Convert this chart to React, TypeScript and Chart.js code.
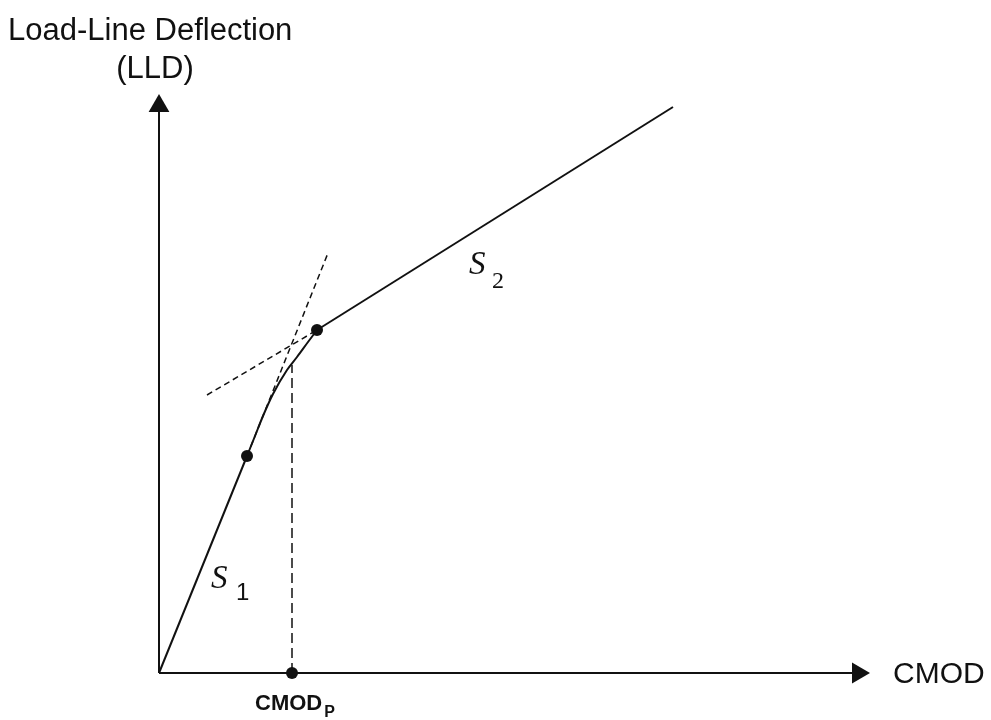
import React, { useEffect, useRef } from "react";
import { Chart, registerables } from "chart.js";

Chart.register(...registerables);

// Axis ranges (arbitrary units: CMOD on x, LLD on y)
const X_RANGE = [-1.59, 8.32];
const Y_RANGE = [-0.47, 6.73];

// Axes (arrow heads at the far ends)
const xAxisCMOD = [0, 6.99];
const yAxisLLD = [0, 5.67];

// Linear part S1
const s1CMOD = [0, 0.88];
const s1LLD = [0, 2.17];

// Knee of the curve
const kneeCMOD = [0.88, 0.96, 1.04, 1.14, 1.28, 1.38, 1.49, 1.58];
const kneeLLD = [2.17, 2.37, 2.57, 2.79, 3.03, 3.16, 3.31, 3.43];

// Linear part S2
const s2CMOD = [1.58, 5.14];
const s2LLD = [3.43, 5.66];

// Tangent construction lines
const tan1CMOD = [0.88, 1.69];
const tan1LLD = [2.17, 4.2];
const tan2CMOD = [0.48, 1.58];
const tan2LLD = [2.78, 3.43];

// CMOD_P projection
const cmodP = 1.33;
const cmodPTop = 3.08;

// Marked points
const markCMOD = [0.88, 1.58, 1.33];
const markLLD = [2.17, 3.43, 0];

const zip = (xs: number[], ys: number[]) => xs.map((x, i) => ({ x, y: ys[i] }));

const INK = "#111";

const textPlugin = {
  id: "labels",
  afterDraw(chart: any) {
    const ctx = chart.ctx as CanvasRenderingContext2D;
    ctx.save();
    ctx.fillStyle = INK;
    ctx.textBaseline = "alphabetic";
    ctx.textAlign = "left";
    ctx.font = '31px "Liberation Sans", Arial, sans-serif';
    ctx.fillText("Load-Line Deflection", 8, 40);
    ctx.textAlign = "center";
    ctx.fillText("(LLD)", 155, 78);
    ctx.textAlign = "left";
    ctx.font = '30px "Liberation Sans", Arial, sans-serif';
    ctx.fillText("CMOD", 893, 683);

    ctx.font = 'bold 22px "Liberation Sans", Arial, sans-serif';
    ctx.fillText("CMOD", 255, 710);
    const w = ctx.measureText("CMOD").width;
    ctx.font = 'bold 16px "Liberation Sans", Arial, sans-serif';
    ctx.fillText("P", 255 + w + 2, 717);

    ctx.font = 'italic 33px "Liberation Serif", "Times New Roman", serif';
    ctx.fillText("S", 211, 588);
    ctx.font = '24px "Liberation Sans", Arial, sans-serif';
    ctx.fillText("1", 236, 600);

    ctx.font = 'italic 33px "Liberation Serif", "Times New Roman", serif';
    ctx.fillText("S", 469, 274);
    ctx.font = '24px "Liberation Serif", "Times New Roman", serif';
    ctx.fillText("2", 492, 288);
    ctx.restore();
  },
};

export default function App() {
  const ref = useRef<HTMLCanvasElement | null>(null);

  useEffect(() => {
    if (!ref.current) return;
    const solid = { borderColor: INK, borderWidth: 2, pointRadius: 0, showLine: true, fill: false };
    const dashShort = { borderColor: INK, borderWidth: 1.5, borderDash: [6, 4], pointRadius: 0, showLine: true, fill: false };
    const chart = new Chart(ref.current, {
      type: "scatter",
      data: {
        datasets: [
          {
            ...solid,
            data: zip(xAxisCMOD, [0, 0]),
            borderWidth: 2,
            pointRadius: [0, 12],
            pointStyle: "triangle",
            rotation: 90,
            pointBackgroundColor: INK,
            pointBorderColor: INK,
            pointBorderWidth: 0,
          },
          {
            ...solid,
            data: zip([0, 0], yAxisLLD),
            borderWidth: 2,
            pointRadius: [0, 12],
            pointStyle: "triangle",
            rotation: 0,
            pointBackgroundColor: INK,
            pointBorderColor: INK,
            pointBorderWidth: 0,
          },
          { ...solid, data: zip(s1CMOD, s1LLD), tension: 0 },
          { ...solid, data: zip(kneeCMOD, kneeLLD), tension: 0.4, cubicInterpolationMode: "monotone" },
          { ...solid, data: zip(s2CMOD, s2LLD), tension: 0 },
          { ...dashShort, data: zip(tan1CMOD, tan1LLD) },
          { ...dashShort, data: zip(tan2CMOD, tan2LLD) },
          {
            ...dashShort,
            borderDash: [10, 5],
            data: zip([cmodP, cmodP], [0, cmodPTop]),
          },
          {
            data: zip(markCMOD, markLLD),
            showLine: false,
            pointRadius: 6,
            pointStyle: "circle",
            pointBackgroundColor: INK,
            pointBorderColor: INK,
            pointBorderWidth: 0,
          },
        ],
      },
      options: {
        animation: false,
        responsive: false,
        events: [],
        layout: { padding: 0, autoPadding: false },
        plugins: { legend: { display: false }, tooltip: { enabled: false } },
        scales: {
          x: { type: "linear", display: false, min: X_RANGE[0], max: X_RANGE[1] },
          y: { type: "linear", display: false, min: Y_RANGE[0], max: Y_RANGE[1] },
        },
      },
      plugins: [textPlugin],
    });
    return () => chart.destroy();
  }, []);

  return (
    <div style={{ position: "fixed", left: 0, top: 0, width: 991, height: 720, background: "#fff" }}>
      <canvas ref={ref} width={991} height={720} style={{ display: "block" }} />
    </div>
  );
}
